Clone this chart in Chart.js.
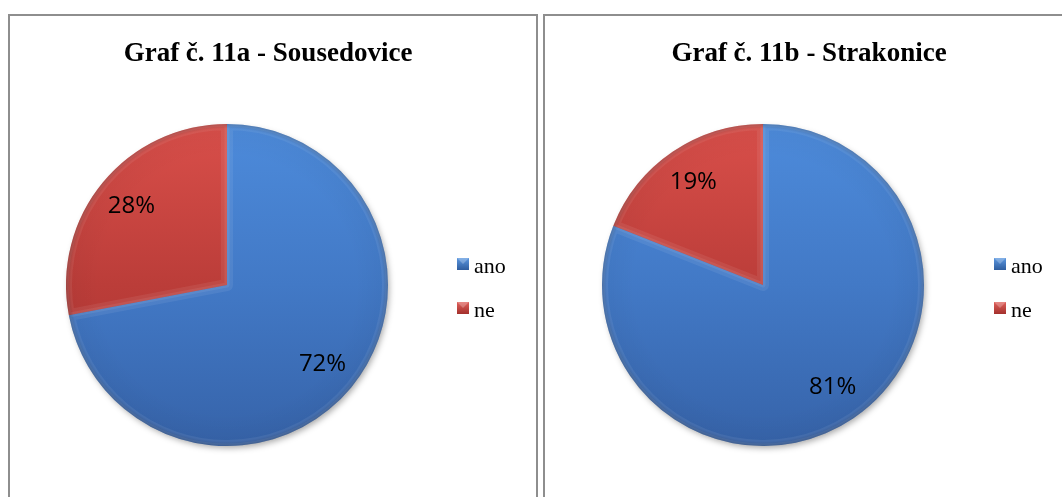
<!DOCTYPE html>
<html><head><meta charset="utf-8">
<script src="https://cdn.jsdelivr.net/npm/chart.js@4.4.0/dist/chart.umd.min.js"></script>
<style>
html,body{margin:0;padding:0;background:#fff;width:1062px;height:497px;overflow:hidden;}
.panel{position:absolute;top:14px;width:526px;height:490px;border:2px solid #8e8e8e;border-bottom:none;}
#p1{left:8px}
#p2{left:543px}
canvas{display:block}
</style></head><body>
<div class="panel" id="p1"><canvas id="c1" width="526" height="481"></canvas></div>
<div class="panel" id="p2"><canvas id="c2" width="526" height="481"></canvas></div>
<script>
// ---- data ----
const categories = ['ano', 'ne'];
const titleA = 'Graf č. 11a - Sousedovice';
const titleB = 'Graf č. 11b - Strakonice';
const valuesA = [72, 28];
const valuesB = [81, 19];

// ---- styling ----
const baseColors = ['#4379c6', '#c0433f'];

function sliceFill(ctx) {
  const chart = ctx.chart;
  const area = chart.chartArea;
  const i = ctx.dataIndex;
  if (!area) return baseColors[i];
  const g = chart.ctx.createLinearGradient(0, area.top, 0, area.bottom);
  if (i === 0) {
    g.addColorStop(0, '#4d8bdb');
    g.addColorStop(0.5, '#4279c6');
    g.addColorStop(1, '#3663a9');
  } else {
    g.addColorStop(0, '#d94f4a');
    g.addColorStop(0.5, '#bb3d39');
    g.addColorStop(1, '#a8322f');
  }
  return g;
}

const decorPlugin = {
  id: 'decor',
  beforeDatasetsDraw(chart) {
    const meta = chart.getDatasetMeta(0);
    const a = meta.data[0];
    if (!a) return;
    const c = chart.ctx;
    c.save();
    c.shadowColor = 'rgba(0,0,0,0.35)';
    c.shadowBlur = 6;
    c.shadowOffsetX = 2;
    c.shadowOffsetY = 3;
    c.fillStyle = '#3d70b8';
    c.beginPath();
    c.arc(a.x, a.y, a.outerRadius - 1, 0, Math.PI * 2);
    c.fill();
    c.restore();
  },
  afterDatasetsDraw(chart, args, opts) {
    const c = chart.ctx;
    const meta = chart.getDatasetMeta(0);
    const data = chart.data.datasets[0].data;
    const total = data.reduce((s, v) => s + v, 0);
    // bevel highlight
    meta.data.forEach(arc => {
      const p = arc.getProps(['x', 'y', 'startAngle', 'endAngle', 'outerRadius'], true);
      c.save();
      c.beginPath();
      c.moveTo(p.x, p.y);
      c.arc(p.x, p.y, p.outerRadius, p.startAngle, p.endAngle);
      c.closePath();
      c.clip();
      c.lineJoin = 'round';
      c.strokeStyle = 'rgba(255,255,255,0.07)';
      c.lineWidth = 12;
      c.stroke();
      c.strokeStyle = 'rgba(255,255,255,0.07)';
      c.lineWidth = 5;
      c.stroke();
      c.restore();
    });
    // rim darkening
    const a0 = meta.data[0];
    if (a0) {
      c.save();
      const rg = c.createRadialGradient(a0.x, a0.y, a0.outerRadius * 0.8, a0.x, a0.y, a0.outerRadius);
      rg.addColorStop(0, 'rgba(0,0,0,0)');
      rg.addColorStop(0.85, 'rgba(0,0,0,0.03)');
      rg.addColorStop(1, 'rgba(0,0,0,0.2)');
      c.fillStyle = rg;
      c.beginPath();
      c.arc(a0.x, a0.y, a0.outerRadius, 0, Math.PI * 2);
      c.fill();
      c.restore();
    }
    // percentage labels
    c.save();
    c.fillStyle = '#000';
    c.font = '24px "Open Sans"';
    c.textAlign = 'center';
    c.textBaseline = 'middle';
    meta.data.forEach((arc, i) => {
      const p = arc.getProps(['x', 'y', 'startAngle', 'endAngle', 'outerRadius'], true);
      const mid = (p.startAngle + p.endAngle) / 2;
      const r = p.outerRadius * 0.77;
      const pct = Math.round(data[i] / total * 100) + '%';
      c.fillText(pct, p.x + Math.cos(mid) * r, p.y + Math.sin(mid) * r);
    });
    c.restore();
    // title
    c.save();
    c.fillStyle = '#000';
    c.font = 'bold 27px "Liberation Serif"';
    c.textAlign = 'center';
    c.textBaseline = 'alphabetic';
    c.fillText(opts.title, opts.titleX, 45);
    c.restore();
    // legend
    const legendRows = [242, 286];
    const textBase = [257, 301];
    chart.data.labels.forEach((lab, i) => {
      const x = opts.legendX, y = legendRows[i];
      c.save();
      const g = c.createLinearGradient(0, y, 0, y + 12);
      if (i === 0) { g.addColorStop(0, '#5b97e0'); g.addColorStop(1, '#2f5d9e'); }
      else { g.addColorStop(0, '#e0605b'); g.addColorStop(1, '#a3302c'); }
      c.fillStyle = g;
      c.fillRect(x, y, 12, 12);
      c.fillStyle = 'rgba(255,255,255,0.25)';
      c.beginPath();
      c.moveTo(x, y); c.lineTo(x + 12, y); c.lineTo(x + 6, y + 6); c.closePath();
      c.fill();
      c.fillStyle = '#000';
      c.font = '22px "Liberation Serif"';
      c.textAlign = 'left';
      c.textBaseline = 'alphabetic';
      c.fillText(lab, x + 17, textBase[i]);
      c.restore();
    });
  }
};

function makeChart(id, values, title, titleX, legendX, padLeft, padRight) {
  return new Chart(document.getElementById(id), {
    type: 'pie',
    data: {
      labels: categories,
      datasets: [{ data: values, backgroundColor: sliceFill, borderWidth: 0 }]
    },
    options: {
      responsive: false,
      animation: false,
      layout: { padding: { left: padLeft, right: padRight, top: 108, bottom: 51 } },
      plugins: {
        legend: { display: false },
        tooltip: { enabled: false },
        title: { display: false },
        decor: { title: title, titleX: titleX, legendX: legendX }
      }
    },
    plugins: [decorPlugin]
  });
}

makeChart('c1', valuesA, titleA, 258, 447, 56, 148);
makeChart('c2', valuesB, titleB, 264, 449, 57, 147);
</script>
</body></html>
